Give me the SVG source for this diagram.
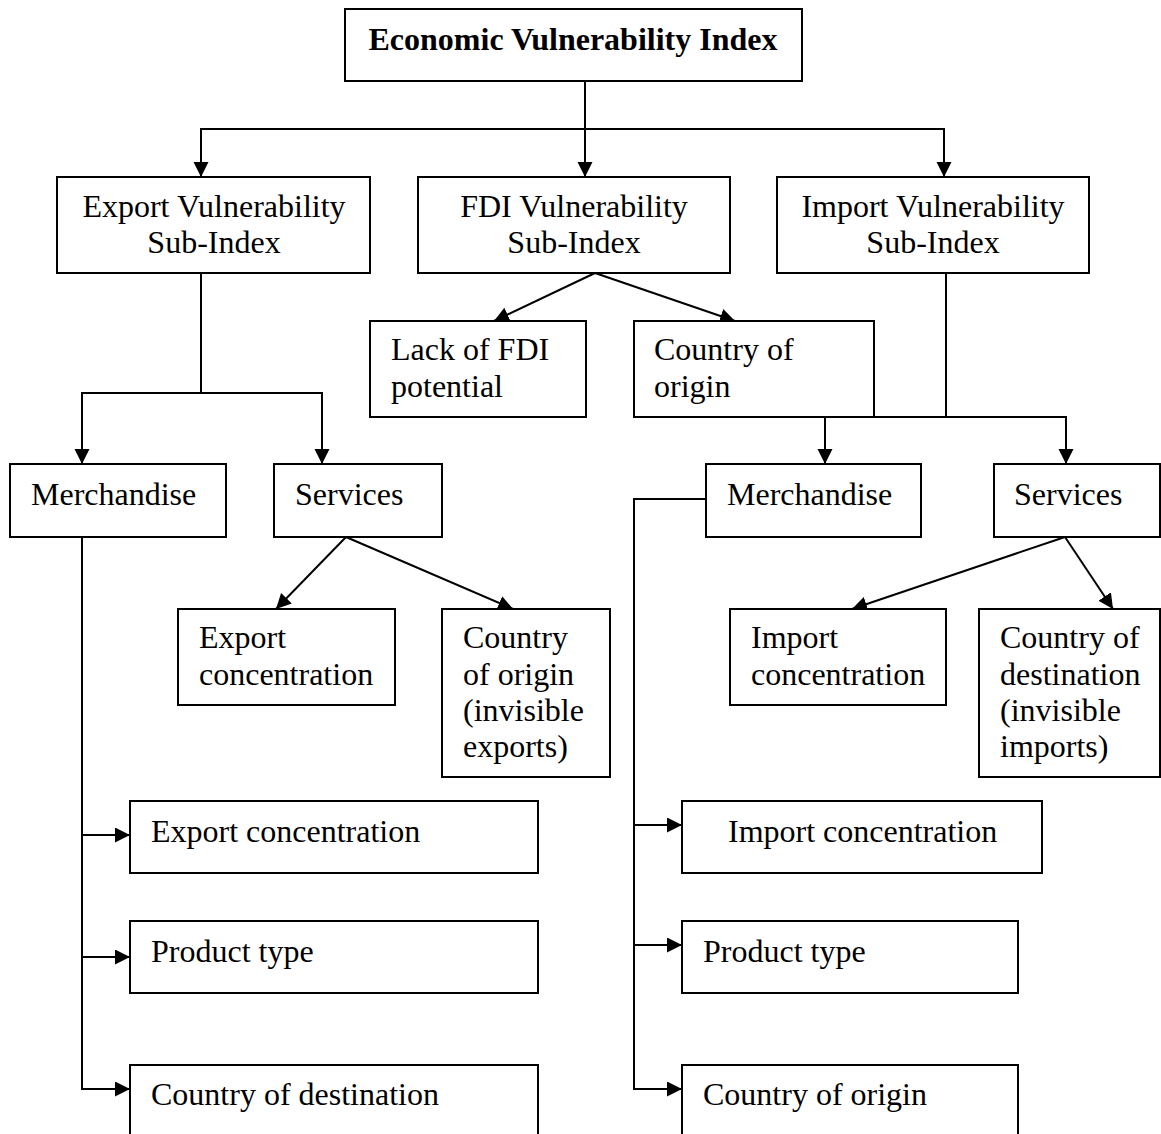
<svg xmlns="http://www.w3.org/2000/svg" width="1161" height="1134" viewBox="0 0 1161 1134">
<style>
.box{fill:#fff;stroke:#000;stroke-width:2}
.t{font-family:"Liberation Serif","Times New Roman",serif;font-size:32px;fill:#000}
.c{text-anchor:middle}
.b{font-weight:bold}
.ln{fill:none;stroke:#000;stroke-width:2}
</style>
<defs>
<marker id="ah" markerUnits="userSpaceOnUse" markerWidth="16" markerHeight="16" refX="15" refY="7.5" orient="auto">
<path d="M0,0 L15,7.5 L0,15 z" fill="#000"/>
</marker>
</defs>
<rect width="1161" height="1134" fill="#fff"/>
<g id="connectors">
<path class="ln" d="M585,81 V177" marker-end="url(#ah)"/>
<path class="ln" d="M585,129 H201 V177" marker-end="url(#ah)"/>
<path class="ln" d="M585,129 H944 V177" marker-end="url(#ah)"/>
<path class="ln" d="M595,273 L494,321" marker-end="url(#ah)"/>
<path class="ln" d="M595,273 L735,321" marker-end="url(#ah)"/>
<path class="ln" d="M201,273 V393"/>
<path class="ln" d="M201,393 H82 V464" marker-end="url(#ah)"/>
<path class="ln" d="M201,393 H322 V464" marker-end="url(#ah)"/>
<path class="ln" d="M946,273 V417"/>
<path class="ln" d="M946,417 H825 V464" marker-end="url(#ah)"/>
<path class="ln" d="M946,417 H1066 V464" marker-end="url(#ah)"/>
<path class="ln" d="M346,537 L276,609" marker-end="url(#ah)"/>
<path class="ln" d="M346,537 L513,609" marker-end="url(#ah)"/>
<path class="ln" d="M1065,537 L852,609" marker-end="url(#ah)"/>
<path class="ln" d="M1065,537 L1113,609" marker-end="url(#ah)"/>
<path class="ln" d="M82,537 V1089 H130" marker-end="url(#ah)"/>
<path class="ln" d="M82,835 H130" marker-end="url(#ah)"/>
<path class="ln" d="M82,957 H130" marker-end="url(#ah)"/>
<path class="ln" d="M706,499 H634 V1089 H682" marker-end="url(#ah)"/>
<path class="ln" d="M634,825 H682" marker-end="url(#ah)"/>
<path class="ln" d="M634,945 H682" marker-end="url(#ah)"/>
</g>
<g id="title">
<rect class="box" x="345" y="9" width="457" height="72"/>
<text class="t c b" x="573" y="50">Economic Vulnerability Index</text>
</g>
<g id="export-sub">
<rect class="box" x="57" y="177" width="313" height="96"/>
<text class="t c" x="214" y="217">Export Vulnerability</text>
<text class="t c" x="214" y="253">Sub-Index</text>
</g>
<g id="fdi-sub">
<rect class="box" x="418" y="177" width="312" height="96"/>
<text class="t c" x="574" y="217">FDI Vulnerability</text>
<text class="t c" x="574" y="253">Sub-Index</text>
</g>
<g id="import-sub">
<rect class="box" x="777" y="177" width="312" height="96"/>
<text class="t c" x="933" y="217">Import Vulnerability</text>
<text class="t c" x="933" y="253">Sub-Index</text>
</g>
<g id="lack-fdi">
<rect class="box" x="370" y="321" width="216" height="96"/>
<text class="t" x="391" y="360">Lack of FDI</text>
<text class="t" x="391" y="397">potential</text>
</g>
<g id="fdi-origin">
<rect class="box" x="634" y="321" width="240" height="96"/>
<text class="t" x="654" y="360">Country of</text>
<text class="t" x="654" y="397">origin</text>
</g>
<g id="exp-merch">
<rect class="box" x="10" y="464" width="216" height="73"/>
<text class="t" x="31" y="505">Merchandise</text>
</g>
<g id="exp-serv">
<rect class="box" x="274" y="464" width="168" height="73"/>
<text class="t" x="295" y="505">Services</text>
</g>
<g id="imp-merch">
<rect class="box" x="706" y="464" width="215" height="73"/>
<text class="t" x="727" y="505">Merchandise</text>
</g>
<g id="imp-serv">
<rect class="box" x="994" y="464" width="166" height="73"/>
<text class="t" x="1014" y="505">Services</text>
</g>
<g id="serv-exp-conc">
<rect class="box" x="178" y="609" width="217" height="96"/>
<text class="t" x="199" y="648">Export</text>
<text class="t" x="199" y="685">concentration</text>
</g>
<g id="serv-exp-origin">
<rect class="box" x="442" y="609" width="168" height="168"/>
<text class="t" x="463" y="648">Country</text>
<text class="t" x="463" y="685">of origin</text>
<text class="t" x="463" y="721">(invisible</text>
<text class="t" x="463" y="757">exports)</text>
</g>
<g id="serv-imp-conc">
<rect class="box" x="730" y="609" width="216" height="96"/>
<text class="t" x="751" y="648">Import</text>
<text class="t" x="751" y="685">concentration</text>
</g>
<g id="serv-imp-dest">
<rect class="box" x="979" y="609" width="181" height="168"/>
<text class="t" x="1000" y="648">Country of</text>
<text class="t" x="1000" y="685">destination</text>
<text class="t" x="1000" y="721">(invisible</text>
<text class="t" x="1000" y="757">imports)</text>
</g>
<g id="merch-exp-conc">
<rect class="box" x="130" y="801" width="408" height="72"/>
<text class="t" x="151" y="842">Export concentration</text>
</g>
<g id="merch-exp-type">
<rect class="box" x="130" y="921" width="408" height="72"/>
<text class="t" x="151" y="962">Product type</text>
</g>
<g id="merch-exp-dest">
<rect class="box" x="130" y="1065" width="408" height="80"/>
<text class="t" x="151" y="1105">Country of destination</text>
</g>
<g id="merch-imp-conc">
<rect class="box" x="682" y="801" width="360" height="72"/>
<text class="t" x="728" y="842">Import concentration</text>
</g>
<g id="merch-imp-type">
<rect class="box" x="682" y="921" width="336" height="72"/>
<text class="t" x="703" y="962">Product type</text>
</g>
<g id="merch-imp-origin">
<rect class="box" x="682" y="1065" width="336" height="80"/>
<text class="t" x="703" y="1105">Country of origin</text>
</g>
</svg>
